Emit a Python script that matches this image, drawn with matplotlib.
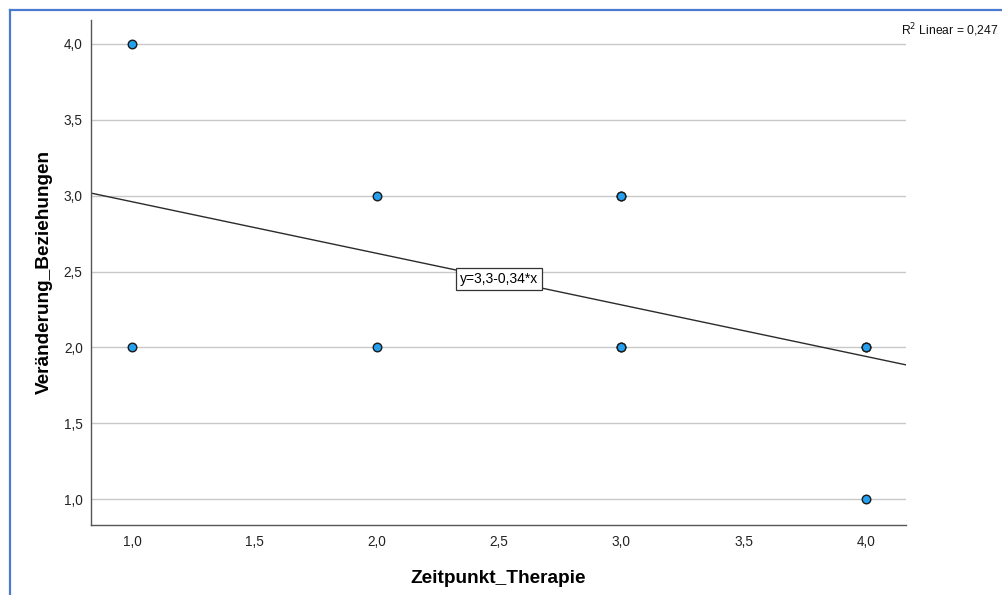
import matplotlib
matplotlib.use("Agg")
import matplotlib.pyplot as plt
from matplotlib.lines import Line2D
import numpy as np

plt.rcParams['font.family'] = ['Liberation Sans', 'DejaVu Sans']

# Data
zeitpunkt = [1, 1, 2, 2, 3, 3, 3, 3, 4, 4, 4]
veraenderung = [4, 2, 3, 2, 3, 3, 2, 2, 2, 2, 1]
intercept = 3.3
slope = -0.34
r2_text = "R$^2$ Linear = 0,247"
eq_text = "y=3,3-0,34*x"
xticks = [1.0, 1.5, 2.0, 2.5, 3.0, 3.5, 4.0]
yticks = [1.0, 1.5, 2.0, 2.5, 3.0, 3.5, 4.0]

def de(v):
    return f"{v:.1f}".replace(".", ",")

fig = plt.figure(figsize=(10.02, 5.95), dpi=100)
ax = fig.add_axes([91/1002, 1 - 525/595, (906-91)/1002, (525-20)/595])

xlim = (0.8325, 4.163)
ylim = (0.829, 4.158)
ax.set_xlim(*xlim)
ax.set_ylim(*ylim)

for yv in yticks:
    ax.axhline(yv, color='#c8c8c8', lw=1.0, zorder=1)

xs = np.array(xlim)
ax.plot(xs, intercept + slope * xs, color='#2b2b2b', lw=1.0, zorder=2)

ax.scatter(zeitpunkt, veraenderung, s=38, facecolor='#25a0ef', edgecolor='#1a1a1a',
           linewidth=1.0, zorder=3)

ax.text(2.5, 2.45, eq_text, ha='center', va='center', fontsize=10, zorder=4,
        bbox=dict(boxstyle='square,pad=0.3', facecolor='white', edgecolor='#333333', lw=0.9))

ax.set_xticks(xticks)
ax.set_xticklabels([de(v) for v in xticks])
ax.set_yticks(yticks)
ax.set_yticklabels([de(v) for v in yticks])
ax.tick_params(axis='both', length=0, labelsize=9.8, colors='#222222')
ax.tick_params(axis='x', pad=7)
ax.tick_params(axis='y', pad=6)

for s in ['top', 'right']:
    ax.spines[s].set_visible(False)
for s in ['left', 'bottom']:
    ax.spines[s].set_color('#555555')
    ax.spines[s].set_linewidth(1.0)

ax.set_xlabel("Zeitpunkt_Therapie", fontsize=13.7, fontweight='bold', labelpad=15)
ax.set_ylabel("Veränderung_Beziehungen", fontsize=13.7, fontweight='bold', labelpad=8)

fig.text(998/1002, 1 - 30/595, r2_text, fontsize=8.7, ha='right', va='center', color='#111111')

# blue frame
fig.add_artist(Line2D([10/1002, 10/1002], [0, 1 - 10/595], transform=fig.transFigure,
                      color='#4a7bd0', lw=1.6))
fig.add_artist(Line2D([10/1002, 1], [1 - 10/595, 1 - 10/595], transform=fig.transFigure,
                      color='#4a7bd0', lw=1.6))

fig.savefig("out.png", dpi=100)
